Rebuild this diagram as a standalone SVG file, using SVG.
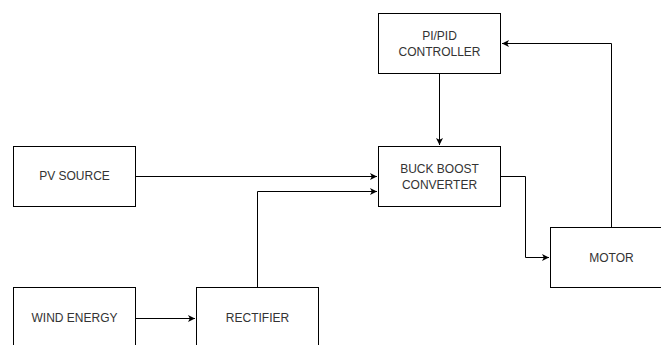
<svg xmlns="http://www.w3.org/2000/svg" width="661" height="345" viewBox="0 0 661 345">
<style>
.box{fill:#fff;stroke:#000;stroke-width:1}
.lbl{font-family:"Liberation Sans",Arial,sans-serif;font-size:12px;fill:#333;text-anchor:middle}
.edge{fill:none;stroke:#000;stroke-width:1}
</style>
<defs>
<marker id="arr" markerWidth="8" markerHeight="8" refX="7" refY="4" orient="auto" markerUnits="userSpaceOnUse">
<path d="M0,0.5 L7,4 L0,7.5 L1.8,4 Z" fill="#000"/>
</marker>
</defs>
<rect width="661" height="345" fill="#fff"/>
<g id="pid"><rect class="box" x="378.5" y="13.5" width="122" height="60"/><text class="lbl" x="439.5" y="40">PI/PID</text><text class="lbl" x="439.5" y="55.5">CONTROLLER</text></g>
<g id="buck"><rect class="box" x="378.5" y="146.5" width="122" height="60"/><text class="lbl" x="439.5" y="173">BUCK BOOST</text><text class="lbl" x="439.5" y="188.5">CONVERTER</text></g>
<g id="pv"><rect class="box" x="13.5" y="146.5" width="122" height="60"/><text class="lbl" x="74.5" y="180">PV SOURCE</text></g>
<g id="wind"><rect class="box" x="13.5" y="287.5" width="122" height="60"/><text class="lbl" x="74.5" y="322">WIND ENERGY</text></g>
<g id="rect"><rect class="box" x="196.5" y="287.5" width="122" height="60"/><text class="lbl" x="257.5" y="322">RECTIFIER</text></g>
<g id="motor"><rect class="box" x="550.5" y="227.5" width="122" height="60"/><text class="lbl" x="611.5" y="261.5">MOTOR</text></g>
<g id="connectors">
<path class="edge" d="M439.5,73.5 V145" marker-end="url(#arr)"/>
<path class="edge" d="M135.5,176.5 H377" marker-end="url(#arr)"/>
<path class="edge" d="M257.5,287.5 V191.5 H377" marker-end="url(#arr)"/>
<path class="edge" d="M135.5,318.5 H195" marker-end="url(#arr)"/>
<path class="edge" d="M500.5,176.5 H525.5 V257.5 H549" marker-end="url(#arr)"/>
<path class="edge" d="M611.5,227.5 V43.5 H502" marker-end="url(#arr)"/>
</g>
</svg>
